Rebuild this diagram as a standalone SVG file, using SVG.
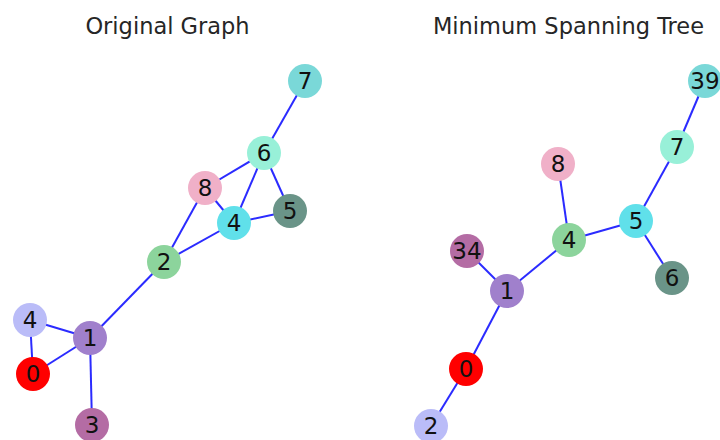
<svg xmlns="http://www.w3.org/2000/svg" width="720" height="440" viewBox="0 0 720 440">
<style>
.title{font-family:"DejaVu Sans",sans-serif;font-size:22.5px;fill:#262626;text-anchor:middle}
.lbl{font-family:"DejaVu Sans",sans-serif;font-size:23px;fill:#111;text-anchor:middle;dominant-baseline:central}
.e{stroke:#2b2bff;stroke-width:2;fill:none}
</style>
<rect width="720" height="440" fill="#fff"/>
<text class="title" x="167.5" y="34">Original Graph</text>
<text class="title" x="568.5" y="34">Minimum Spanning Tree</text>
<g id="connectors">
<line class="e" x1="305" y1="81" x2="264" y2="153"/>
<line class="e" x1="264" y1="153" x2="205" y2="188"/>
<line class="e" x1="264" y1="153" x2="234" y2="223"/>
<line class="e" x1="264" y1="153" x2="290" y2="211"/>
<line class="e" x1="205" y1="188" x2="234" y2="223"/>
<line class="e" x1="205" y1="188" x2="164" y2="262"/>
<line class="e" x1="234" y1="223" x2="290" y2="211"/>
<line class="e" x1="234" y1="223" x2="164" y2="262"/>
<line class="e" x1="164" y1="262" x2="90" y2="338"/>
<line class="e" x1="30" y1="320" x2="90" y2="338"/>
<line class="e" x1="30" y1="320" x2="33" y2="374"/>
<line class="e" x1="33" y1="374" x2="90" y2="338"/>
<line class="e" x1="90" y1="338" x2="92" y2="425"/>
<line class="e" x1="705" y1="81" x2="677" y2="147"/>
<line class="e" x1="677" y1="147" x2="636" y2="221"/>
<line class="e" x1="636" y1="221" x2="569" y2="240"/>
<line class="e" x1="636" y1="221" x2="672" y2="278"/>
<line class="e" x1="558" y1="164" x2="569" y2="240"/>
<line class="e" x1="569" y1="240" x2="507" y2="291"/>
<line class="e" x1="467" y1="251" x2="507" y2="291"/>
<line class="e" x1="507" y1="291" x2="466" y2="369"/>
<line class="e" x1="466" y1="369" x2="431" y2="426"/>
</g>
<g id="g1-n7"><circle cx="305" cy="81" r="17" fill="#7ad8d8"/><text class="lbl" x="305" y="81">7</text></g>
<g id="g1-n6"><circle cx="264" cy="153" r="17" fill="#98f0d8"/><text class="lbl" x="264" y="153">6</text></g>
<g id="g1-n8"><circle cx="205" cy="188" r="17" fill="#f0b0c8"/><text class="lbl" x="205" y="188">8</text></g>
<g id="g1-n5"><circle cx="290" cy="211" r="17" fill="#6a9488"/><text class="lbl" x="290" y="211">5</text></g>
<g id="g1-n4a"><circle cx="234" cy="223" r="17" fill="#60e0ea"/><text class="lbl" x="234" y="223">4</text></g>
<g id="g1-n2"><circle cx="164" cy="262" r="17" fill="#8cd49c"/><text class="lbl" x="164" y="262">2</text></g>
<g id="g1-n4b"><circle cx="30" cy="320" r="17" fill="#babcf8"/><text class="lbl" x="30" y="320">4</text></g>
<g id="g1-n1"><circle cx="90" cy="338" r="17" fill="#a080cc"/><text class="lbl" x="90" y="338">1</text></g>
<g id="g1-n0"><circle cx="33" cy="374" r="17" fill="#ff0000"/><text class="lbl" x="33" y="374">0</text></g>
<g id="g1-n3"><circle cx="92" cy="425" r="17" fill="#b46ca4"/><text class="lbl" x="92" y="425">3</text></g>
<g id="g2-n39"><circle cx="705" cy="81" r="17" fill="#7ad8d8"/><text class="lbl" x="705" y="81">39</text></g>
<g id="g2-n7"><circle cx="677" cy="147" r="17" fill="#98f0d8"/><text class="lbl" x="677" y="147">7</text></g>
<g id="g2-n8"><circle cx="558" cy="164" r="17" fill="#f0b0c8"/><text class="lbl" x="558" y="164">8</text></g>
<g id="g2-n5"><circle cx="636" cy="221" r="17" fill="#60e0ea"/><text class="lbl" x="636" y="221">5</text></g>
<g id="g2-n4"><circle cx="569" cy="240" r="17" fill="#8cd49c"/><text class="lbl" x="569" y="240">4</text></g>
<g id="g2-n34"><circle cx="467" cy="251" r="17" fill="#b46ca4"/><text class="lbl" x="467" y="251">34</text></g>
<g id="g2-n6"><circle cx="672" cy="278" r="17" fill="#6a9488"/><text class="lbl" x="672" y="278">6</text></g>
<g id="g2-n1"><circle cx="507" cy="291" r="17" fill="#a080cc"/><text class="lbl" x="507" y="291">1</text></g>
<g id="g2-n0"><circle cx="466" cy="369" r="17" fill="#ff0000"/><text class="lbl" x="466" y="369">0</text></g>
<g id="g2-n2"><circle cx="431" cy="426" r="17" fill="#babcf8"/><text class="lbl" x="431" y="426">2</text></g>
</svg>
